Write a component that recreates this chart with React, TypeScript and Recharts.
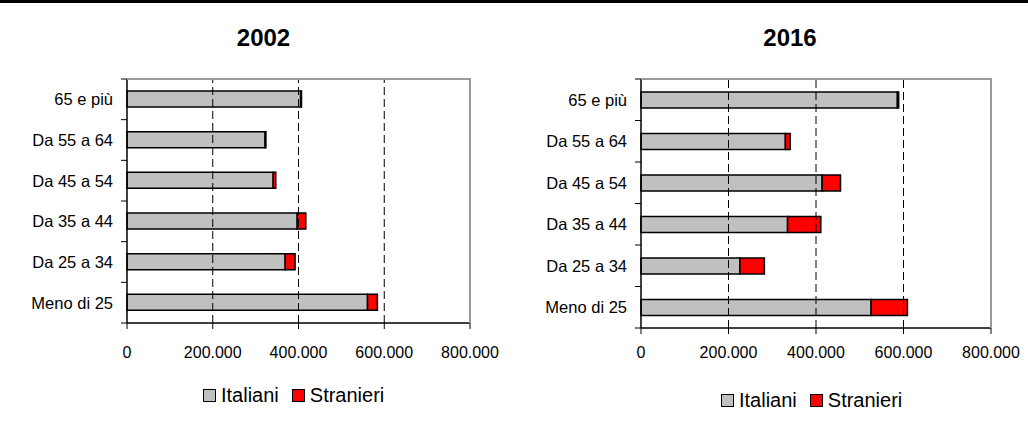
import React from "react";
import { BarChart, Bar, XAxis, YAxis, ReferenceLine } from "recharts";

const categories = ["65 e più", "Da 55 a 64", "Da 45 a 54", "Da 35 a 44", "Da 25 a 34", "Meno di 25"];
const italiani2002 = [405000, 322000, 341000, 397000, 369000, 561000];
const stranieri2002 = [2000, 2000, 6000, 20000, 23000, 23000];
const italiani2016 = [586000, 330000, 414000, 335000, 226000, 526000];
const stranieri2016 = [3000, 11000, 42000, 76000, 56000, 83000];
const xTicks = [0, 200000, 400000, 600000, 800000];
const gridTicks = [200000, 400000, 600000];
const xMax = 800000;
const seriesNames = ["Italiani", "Stranieri"];
const seriesColors = ["#C0C0C0", "#FF0000"];

const FONT = "'Liberation Sans', Arial, sans-serif";
const CHART_W = 514;
const CHART_H = 434;
const TOP = 79;
const YAXIS_W = 127;
const XAXIS_H = 40;

const fmt = (v: number) => {
  const s = String(Math.round(v));
  return s.replace(/\B(?=(\d{3})+(?!\d))/g, ".");
};

const build = (it: number[], st: number[]) =>
  categories.map((c, i) => ({ cat: c, Italiani: it[i], Stranieri: st[i] }));

const makeTick = (step: number, n: number) => (props: any) => {
  const { x, y, payload, index } = props;
  const half = step / 2;
  return (
    <g>
      <line x1={x - 6} x2={x} y1={y - half} y2={y - half} stroke="#000" strokeWidth={1} />
      {index === n - 1 && (
        <line x1={x - 6} x2={x} y1={y + half} y2={y + half} stroke="#000" strokeWidth={1} />
      )}
      <text x={x - 14} y={y} dy="0.36em" textAnchor="end" fontSize={16.5} fontFamily={FONT} fill="#000">
        {payload.value}
      </text>
    </g>
  );
};

type PanelProps = {
  data: any[];
  left: number;
  marginRight: number;
  marginBottom: number;
};

const Panel = ({ data, left, marginRight, marginBottom }: PanelProps) => {
  const plotH = CHART_H - TOP - marginBottom - XAXIS_H;
  const plotW = CHART_W - YAXIS_W - marginRight;
  const step = plotH / categories.length;
  return (
    <div style={{ position: "absolute", left, top: 0, width: CHART_W, height: CHART_H }}>
      <div style={{ position: "absolute", left: 0, top: 0 }}>
        <BarChart
          width={CHART_W}
          height={CHART_H}
          data={data}
          layout="vertical"
          margin={{ top: TOP, right: marginRight, bottom: marginBottom, left: 0 }}
          barSize={16}
        >
          <XAxis
            type="number"
            domain={[0, xMax]}
            ticks={xTicks}
            interval={0}
            tickFormatter={fmt}
            height={XAXIS_H}
            tickSize={6}
            tickMargin={marginBottom > 68 ? 18 : 13}
            axisLine={{ stroke: "#000", strokeWidth: 1.5 }}
            tickLine={{ stroke: "#000" }}
            tick={{ fill: "#000", fontSize: 16, fontFamily: FONT }}
          />
          <YAxis
            type="category"
            dataKey="cat"
            width={YAXIS_W}
            tickSize={0}
            tickMargin={0}
            tickLine={false}
            axisLine={{ stroke: "#000", strokeWidth: 1.5 }}
            interval={0}
            tick={makeTick(step, categories.length)}
          />
          {gridTicks.map((t) => (
            <ReferenceLine key={t} x={t} stroke="#000" strokeDasharray="8 4" strokeWidth={1} />
          ))}
          <Bar dataKey="Italiani" stackId="a" fill={seriesColors[0]} stroke="#000" strokeWidth={1.5} isAnimationActive={false} />
          <Bar dataKey="Stranieri" stackId="a" fill={seriesColors[1]} stroke="#000" strokeWidth={1.5} isAnimationActive={false} />
        </BarChart>
      </div>
      <div
        style={{
          position: "absolute",
          left: YAXIS_W,
          top: TOP - 1,
          width: plotW + 1,
          height: plotH + 1,
          borderTop: "2px solid #999999",
          borderRight: "2px solid #999999",
          boxSizing: "border-box",
          pointerEvents: "none",
          zIndex: 5,
        }}
      />
    </div>
  );
};

const Legend = ({ left, top }: { left: number; top: number }) => (
  <div
    style={{
      position: "absolute",
      left,
      top,
      display: "flex",
      alignItems: "center",
      fontFamily: FONT,
      fontSize: 20,
      color: "#000",
      lineHeight: "22px",
    }}
  >
    {seriesNames.map((n, i) => (
      <div key={n} style={{ display: "flex", alignItems: "center", marginRight: i === 0 ? 13 : 0 }}>
        <span
          style={{
            display: "inline-block",
            width: 11,
            height: 11,
            background: seriesColors[i],
            border: "1.5px solid #000",
            marginRight: 5,
          }}
        />
        <span>{n}</span>
      </div>
    ))}
  </div>
);

const Title = ({ text, cx }: { text: string; cx: number }) => (
  <div
    style={{
      position: "absolute",
      left: cx - 60,
      width: 120,
      top: 24,
      textAlign: "center",
      fontFamily: FONT,
      fontWeight: "bold",
      fontSize: 24,
      lineHeight: "28px",
      color: "#000",
    }}
  >
    {text}
  </div>
);

export default function App() {
  return (
    <div style={{ position: "absolute", left: 0, top: 0, width: 1028, height: 434, background: "#fff", overflow: "hidden" }}>
      <div style={{ position: "absolute", left: 0, top: 0, width: 1028, height: 3, background: "#000" }} />
      <Title text="2002" cx={263.5} />
      <Title text="2016" cx={790} />
      <Panel data={build(italiani2002, stranieri2002)} left={0} marginRight={44} marginBottom={71} />
      <Panel data={build(italiani2016, stranieri2016)} left={514} marginRight={37} marginBottom={66} />
      <Legend left={203} top={384} />
      <Legend left={721} top={389} />
    </div>
  );
}
